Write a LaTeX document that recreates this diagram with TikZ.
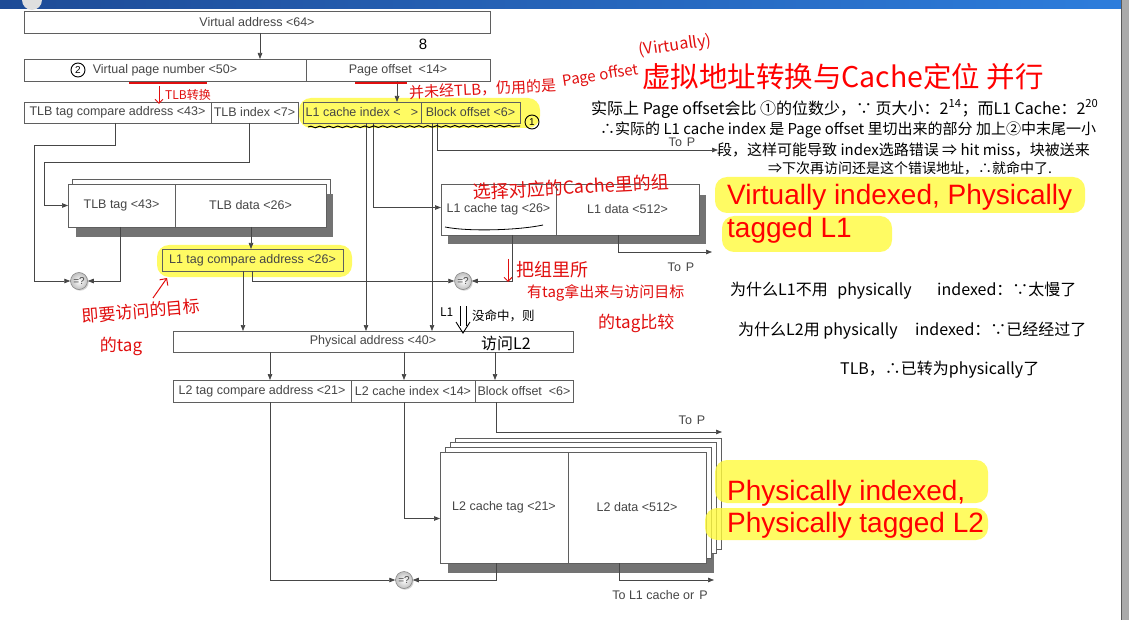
\documentclass[tikz,border=0pt]{standalone}
\usepackage{fontspec}
\setmainfont{Liberation Sans}
\newfontfamily\cjk{Noto Sans CJK SC}
\usetikzlibrary{arrows.meta,decorations.pathmorphing,shadows}
\definecolor{boxc}{RGB}{95,95,95}
\definecolor{txtc}{RGB}{70,70,70}
\definecolor{linec}{RGB}{70,70,70}
\definecolor{shad}{RGB}{115,115,115}
\definecolor{hl}{RGB}{255,250,60}
\definecolor{hred}{RGB}{225,15,15}
\definecolor{pred}{RGB}{255,0,0}
\definecolor{barL}{RGB}{30,75,150}
\definecolor{barR}{RGB}{45,125,220}
\definecolor{strip}{RGB}{170,170,170}
\begin{document}
\begin{tikzpicture}[x=1pt,y=-1pt,
  box/.style={draw=boxc, line width=0.7pt, inner sep=0pt, outer sep=0pt, anchor=north west, text=txtc, font=\fontsize{12.5}{14}\selectfont},
  arr/.style={draw=linec, line width=0.7pt, -{Triangle[length=6pt,width=4.5pt]}},
  ln/.style={draw=linec, line width=0.7pt},
  cmp/.style={circle, draw=gray, line width=0.5pt, inner sep=0pt, minimum size=17pt, inner color=white, outer color=gray!50, text=txtc, font=\fontsize{10}{10}\selectfont, drop shadow={shadow xshift=1.2pt, shadow yshift=-1.2pt, fill=gray!70}},
  lbl/.style={text=txtc, inner sep=0pt, font=\fontsize{12.5}{14}\selectfont},
  hlt/.style={fill=hl, fill opacity=0.8, rounded corners=12pt},
  hwr/.style={text=hred, inner sep=0pt},
  hwb/.style={text=black, inner sep=0pt},
  redbig/.style={text=pred, inner sep=0pt, anchor=base west, font=\fontsize{28}{28}\selectfont}
]
\useasboundingbox (0,0) rectangle (1129,620);
\fill[white] (0,0) rectangle (1129,620);
% window chrome
\shade[left color=barL, right color=barR] (0,0) rectangle (1121,9);
\fill[gray!25] (42,0) arc[start angle=0,end angle=180,radius=10] -- cycle;
\fill[strip] (1121,0) rectangle (1129,620);
\draw[gray!70!black, line width=0.8pt] (1121.4,0) -- (1121.4,620);

% highlights under boxes
\fill[hlt] (299,98) rectangle (540,128);
\fill[hlt] (157,245) rectangle (352,277);

% top rows
\node[box, minimum width=466pt, minimum height=22pt] (va) at (24,11) {Virtual address <64>};
\node[box, minimum width=282pt, minimum height=22pt] (vpn) at (24,59) {Virtual page number <50>};
\node[box, minimum width=184pt, minimum height=22pt] (po) at (306,59) {Page offset\ \ <14>};
\node[box, minimum width=187pt, minimum height=21pt] (tca) at (24,102) {TLB tag compare address <43>};
\node[box, minimum width=87pt, minimum height=21pt] (tix) at (211,102) {TLB index <7>};
\node[box, minimum width=118pt, minimum height=21pt] (l1ix) at (303,102) {L1 cache index <\ \ \ >};
\node[box, minimum width=99pt, minimum height=21pt] (bo1) at (421,102) {Block offset <6>};

% TLB
\draw[boxc, fill=white, line width=0.7pt] (72,179) rectangle (330,222);
\fill[shad] (76,194) rectangle (333,237);
\node[box, fill=white, minimum width=107pt, minimum height=43pt] (tlbtag) at (68,184) {TLB tag <43>};
\node[box, fill=white, minimum width=151pt, minimum height=43pt] (tlbdata) at (175,184) {TLB data <26>};

% L1 cache
\fill[shad] (448,195) rectangle (706,244);
\node[box, fill=white, minimum width=115pt, minimum height=51pt] (l1tag) at (441,184) {L1 cache tag <26>};
\node[box, fill=white, minimum width=143pt, minimum height=51pt] (l1data) at (556,184) {L1 data <512>};

\node[box, minimum width=181pt, minimum height=22pt] (l1tca) at (162,249) {L1 tag compare address <26>};
\node[cmp] (cmpA) at (79,281) {=?};
\node[cmp] (cmpB) at (463,281) {=?};

\node[box, minimum width=400pt, minimum height=21pt] (pa) at (173,331) {Physical address <40>};
\node[box, minimum width=178pt, minimum height=22pt] (l2tca) at (173,380) {L2 tag compare address <21>};
\node[box, minimum width=124pt, minimum height=22pt] (l2ix) at (351,380) {L2 cache index <14>};
\node[box, minimum width=98pt, minimum height=22pt] (bo2) at (475,380) {Block offset\ \ <6>};

% L2 cache stack
\fill[shad] (448,462) rectangle (714,573);
\foreach \k in {3,2,1} {
  \draw[boxc, fill=white, line width=0.7pt] ({440+5*\k},{452-4.6*\k}) rectangle ({706+5*\k},{563-4.6*\k});
}
\node[box, fill=white, minimum width=128pt, minimum height=111pt] (l2tag) at (440,452) {L2 cache tag <21>};
\node[box, fill=white, minimum width=138pt, minimum height=111pt] (l2data) at (568,452) {L2 data <512>};
\node[cmp] (cmpC) at (404,580) {=?};

% labels
\node[lbl] (tp1) at (682,142) {To\hspace{5pt}P};
\node[lbl] (tp2) at (681,267) {To\hspace{5pt}P};
\node[lbl] (tp3) at (692,420) {To\hspace{5pt}P};
\node[lbl] (tl1) at (660,595) {To L1 cache or\hspace{5pt}P};

% connector anchors
\coordinate (c1) at ([xshift=236pt]va.south west);
\coordinate (c2) at ([xshift=91pt]po.south west);
\coordinate (c3) at ([xshift=91pt]tca.south west);
\coordinate (c4) at ([xshift=38pt]tix.south west);
\coordinate (c5) at ([xshift=52pt]tlbtag.south west);
\coordinate (c6) at ([xshift=76pt]tlbdata.south west);
\coordinate (c7) at ([xshift=81pt]l1tca.south west);
\coordinate (c8) at ([xshift=90pt]l1tca.south west);
\coordinate (c9) at ([xshift=63pt]l1ix.south west);
\coordinate (c10) at ([xshift=70pt]l1ix.south west);
\coordinate (c11) at ([xshift=11pt]bo1.south west);
\coordinate (c12) at ([xshift=16pt]bo1.south west);
\coordinate (c13) at ([xshift=71pt]l1tag.south west);
\coordinate (c14) at ([xshift=62pt]l1data.south west);
\coordinate (c15) at ([xshift=97pt]pa.south west);
\coordinate (c16) at ([xshift=231pt]pa.south west);
\coordinate (c17) at ([xshift=322pt]pa.south west);
\coordinate (c18) at ([xshift=97pt]l2tca.south west);
\coordinate (c19) at ([xshift=53pt]l2ix.south west);
\coordinate (c20) at ([xshift=21pt]bo2.south west);
\coordinate (c21) at ([xshift=56pt]l2tag.south west);
\coordinate (c22) at ([xshift=51pt]l2data.south west);
\coordinate (toP1) at (718,150);
\coordinate (toP2) at (712,252);
\coordinate (toP3) at (722,432);
\coordinate (toL1) at (714,580);

\draw[arr] (c1) -- (c1 |- vpn.north);
\draw[arr] (c2) -- (c2 |- l1ix.north);
\draw[arr] (c3) -- ++(0,22) -- ++(-81,0) |- (cmpA.west);
\draw[arr] (c4) -- ++(0,39) -- ++(-205,0) |- (tlbtag.west);
\draw[arr] (c5) |- (cmpA.east);
\draw[arr] (c6) -- (c6 |- l1tca.north);
\draw[arr] (c7) -- (c7 |- pa.north);
\draw[arr] (c8) |- (cmpB.west);
\draw[arr] (c9) -- (c9 |- pa.north);
\draw[arr] (c10) |- ([yshift=2pt]l1tag.west);
\draw[arr] (c11) -- (c11 |- pa.north);
\draw[arr] (c12) |- (toP1);
\draw[arr] (c13) |- (cmpB.east);
\draw[arr] (c14) |- (toP2);
\draw[arr] (c15) -- (c15 |- l2tca.north);
\draw[arr] (c16) -- (c16 |- l2ix.north);
\draw[arr] (c17) -- (c17 |- bo2.north);
\draw[arr] (c18) |- (cmpC.west);
\draw[arr] (c19) |- ([yshift=-11pt]l2tag.west);
\draw[arr] (c20) |- (toP3);
\draw[arr] (c21) |- (cmpC.east);
\draw[arr] (c22) |- (toL1);

% ---------- annotations ----------
\node[font=\fontsize{15}{15}\selectfont, inner sep=0pt] (eight) at (423,44) {8};
\node[draw, circle, line width=0.9pt, inner sep=0pt, minimum size=14pt, font=\fontsize{10}{10}\selectfont] (n2) at (78,70) {2};
\node[draw, circle, line width=0.9pt, inner sep=0pt, minimum size=14pt, font=\fontsize{10}{10}\selectfont] (n1) at (532,122) {1};
\draw[hred, line width=1.1pt] (129,83) -- (207,83);
\draw[hred, line width=1.1pt] (355,83) -- (407,83);
\draw[hred, line width=1pt, -{Straight Barb[length=4pt]}] (159,86) -- (159,104);
\node[hwr, anchor=west, font=\fontsize{12}{12}\cjk] (a1) at (165,95) {TLB转换};
\node[hwr, anchor=west, rotate=3, font=\fontsize{15}{15}\cjk] (a2) at (409,93) {并未经TLB，仍用的是};
\node[hwr, rotate=9, font=\fontsize{15}{15}\cjk] (a2b) at (601,76) {Page offset};
\node[hwr, rotate=8, font=\fontsize{16}{16}\cjk] (a3) at (675,46) {(Virtually)};
\draw[black, line width=1pt, decorate, decoration={snake, amplitude=0.8pt, segment length=9pt}] (308,127) -- (520,126);
\draw[black, line width=0.8pt] (445,227) .. controls (470,232) and (520,230) .. (543,225);

\node[text=pred, inner sep=0pt, font=\fontsize{28.5}{28.5}\cjk] (title) at (843,77) {虚拟地址转换与Cache定位 并行};

\node[hwb, anchor=west, font=\fontsize{16}{16}\cjk] (b1) at (591,109) {实际上 Page offset会比 ①的位数少，∵ 页大小：2\textsuperscript{14}；而L1 Cache：2\textsuperscript{20}};
\node[hwb, anchor=west, font=\fontsize{15}{15}\cjk] (b2) at (600,130) {∴实际的 L1 cache index 是 Page offset 里切出来的部分 加上②中末尾一小};
\node[hwb, anchor=west, font=\fontsize{15}{15}\cjk] (b3) at (717,150) {段，这样可能导致 index选路错误 ⇒ hit miss，块被送来};
\node[hwb, anchor=west, font=\fontsize{14}{14}\cjk] (b4) at (768,168) {⇒下次再访问还是这个错误地址，∴就命中了.};

\fill[hlt] (715,177) rectangle (1085,213);
\fill[hlt] (722,216) rectangle (892,252);
\fill[hlt] (715,460) rectangle (988,503);
\fill[hlt] (705,508) rectangle (988,540);
\node[redbig] (v1) at (727,205) {Virtually indexed, Physically};
\node[redbig] (v2) at (727,238) {tagged L1};
\node[redbig] (p1) at (727,500) {Physically indexed,};
\node[redbig] (p2) at (727,532) {Physically tagged L2};

\node[hwr, rotate=3, font=\fontsize{18}{18}\cjk] (a4) at (571,187) {选择对应的Cache里的组};
\draw[hred, line width=1pt, -{Straight Barb[length=4pt]}] (508,259) -- (508,282);
\node[hwr, anchor=west, font=\fontsize{18}{18}\cjk] (a5) at (516,270) {把组里所};
\node[hwr, anchor=west, font=\fontsize{15}{15}\cjk] (a6) at (527,293) {有tag拿出来与访问目标};
\node[hwr, anchor=west, font=\fontsize{17}{17}\cjk] (a7) at (598,323) {的tag比较};

\node[hwb, anchor=west, font=\fontsize{12}{12}\cjk] (b5) at (440,312) {L1};
\draw[black, line width=0.9pt] (460,306) -- (460,326) (466,306) -- (466,326);
\draw[black, line width=0.9pt] (456,322) -- (463,333) -- (470,322);
\node[hwb, anchor=west, font=\fontsize{12.5}{12.5}\cjk] (b6) at (472,316) {没命中，则};
\node[hwb, anchor=west, font=\fontsize{16}{16}\cjk] (b7) at (481,343) {访问L2};

\draw[hred, line width=1pt, -{Straight Barb[length=5pt]}] (153,298) -- (167,278);
\node[hwr, rotate=5, font=\fontsize{17}{17}\cjk] (a8) at (141,311) {即要访问的目标};
\node[hwr, font=\fontsize{17}{17}\cjk] (a9) at (121,346) {的tag};

\node[hwb, anchor=west, font=\fontsize{16}{16}\cjk] (b8) at (730,291) {为什么L1不用\hspace{6pt} physically\hspace{22pt} indexed：∵太慢了};
\node[hwb, anchor=west, font=\fontsize{16}{16}\cjk] (b9) at (738,331) {为什么L2用 physically\hspace{14pt} indexed：∵已经经过了};
\node[hwb, anchor=west, font=\fontsize{16}{16}\cjk] (b10) at (840,370) {TLB，∴已转为physically了};
\end{tikzpicture}
\end{document}
